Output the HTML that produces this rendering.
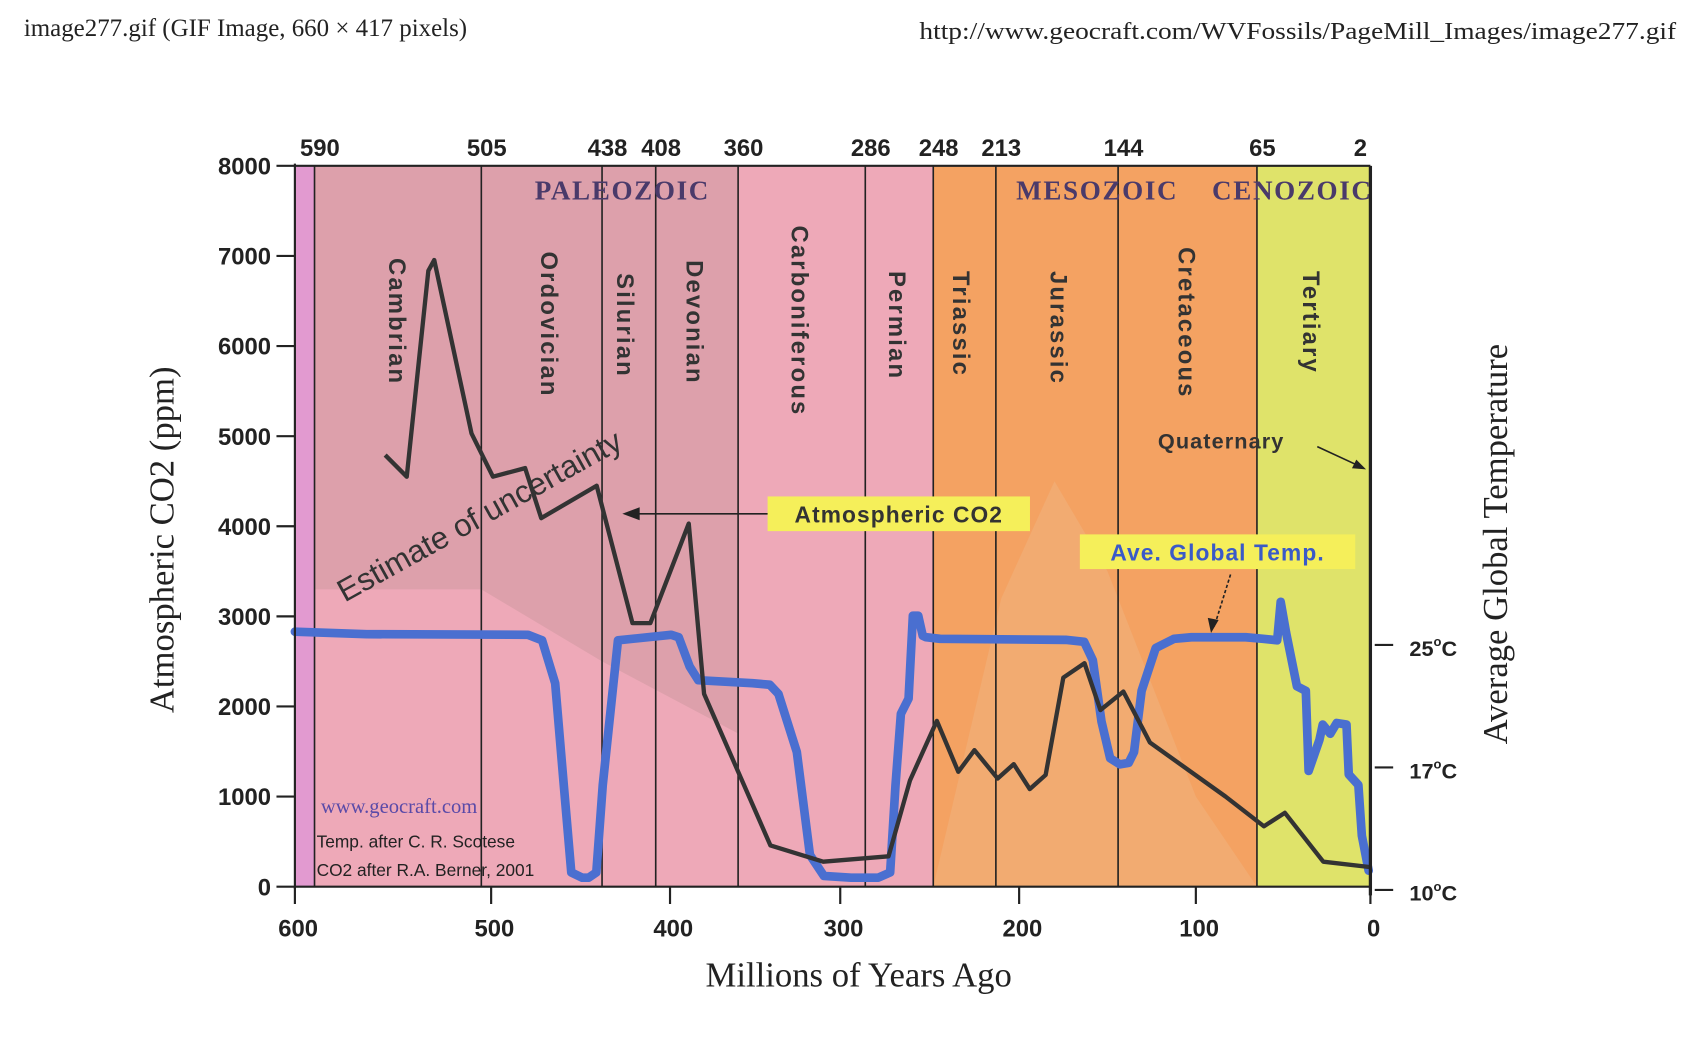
<!DOCTYPE html>
<html><head><meta charset="utf-8"><style>
html,body{margin:0;padding:0;background:#fff;}
svg{display:block;}
</style></head><body>
<svg id="chart" width="1700" height="1046" viewBox="0 0 1568 965" preserveAspectRatio="none" xmlns="http://www.w3.org/2000/svg" font-family="Liberation Sans, sans-serif">
<text x="22" y="33" font-family="Liberation Serif, serif" font-size="23" fill="#222">image277.gif (GIF Image, 660 × 417 pixels)</text>
<text x="1546" y="36" text-anchor="end" font-family="Liberation Serif, serif" font-size="22" fill="#222" textLength="698" lengthAdjust="spacingAndGlyphs">http://www.geocraft.com/WVFossils/PageMill_Images/image277.gif</text>
<g id="bg"></g>
<g id="lines"></g>
<g id="labels"></g>
<g id="series"></g>
<g id="axes"></g>
</svg>
<script>
const NS='http://www.w3.org/2000/svg';
// data
const boundaries=[590,505,438,408,360,286,248,213,144,65,2];
const periods=['Cambrian','Ordovician','Silurian','Devonian','Carboniferous','Permian','Triassic','Jurassic','Cretaceous','Tertiary'];
const co2Ages=[554,543,532,529,510,499,481,472,441,421,411,389,380,341,310,273,261,246,234,225,212,203,194,185,175,163,154,141,126,83,61,49,27,0];
const co2Vals=[4790,4550,6835,6955,5030,4550,4645,4090,4450,2925,2925,4030,2140,457,277,337,1180,1840,1275,1515,1200,1360,1083,1240,2320,2480,1960,2165,1600,1000,670,820,277,217];
const tempAges=[600,563.5,479.4,471.5,464.2,459.4,455.2,449.1,445.5,441.2,437.6,429.1,399.4,394.9,388.5,383.4,351.6,341.4,336.3,325.5,317.8,309.6,293.9,278.8,272.1,269.1,266.1,261.8,259.4,256.4,253.9,252.1,244.2,173.6,163.2,158.3,153.4,148.5,143,138,135,130.7,122.7,112.3,102.5,91.9,71.4,61.5,53.4,51.4,48.3,42.1,37,35.4,29.2,27.3,23,19.3,13.7,12.4,6.9,4.9,1];
const tempVals=[25.86,25.7,25.66,25.3,22.5,16,11,10.7,10.7,11,16,25.3,25.66,25.5,23.6,22.7,22.5,22.4,21.8,18,12,10.8,10.7,10.7,11,16,20.5,21.5,26.9,26.9,25.6,25.5,25.4,25.33,25.2,24,20,17.6,17.2,17.3,18,22,24.8,25.4,25.5,25.5,25.5,25.4,25.3,27.8,25.8,22.3,22.0,16.8,18.8,19.8,19.2,19.9,19.8,16.6,16.0,13.1,11.1];
const co2Ticks=[0,1000,2000,3000,4000,5000,6000,7000,8000];
const ageTicks=[600,500,400,300,200,100,0];
const tempTicks=[25,17,10];
// axes (piecewise-linear age axis through tick positions)
const tickPx=[272,453,618,775,940,1103,1264];
const X=a=>{const i=Math.min(5,Math.max(0,Math.floor((600-a)/100)));const a0=600-i*100;return tickPx[i]+(a0-a)/100*(tickPx[i+1]-tickPx[i]);};
const Y=v=>818-v*665/8000;
const tempPx=[[10,821],[17,708],[25,595],[30,524]];
const YT=t=>{let i=0;while(i<2&&t>tempPx[i+1][0])i++;const [t0,y0]=tempPx[i],[t1,y1]=tempPx[i+1];return y0+(t-t0)/(t1-t0)*(y1-y0);};
function el(tag,attrs,parent,txt){const e=document.createElementNS(NS,tag);for(const k in attrs)e.setAttribute(k,attrs[k]);if(txt!==undefined)e.textContent=txt;parent.appendChild(e);return e;}
const bg=document.getElementById('bg'),ln=document.getElementById('lines'),lb=document.getElementById('labels'),sr=document.getElementById('series'),ax=document.getElementById('axes');
const yTop=Y(8000),bot=Y(0);
let r;
r=el('rect',{x:X(600),y:yTop,width:X(590)-X(600),height:bot-yTop,fill:'#e29ad0'},bg);

r=el('rect',{x:X(590),y:yTop,width:X(248)-X(590),height:bot-yTop,fill:'#eea9b8'},bg);

r=el('polygon',{points:`${X(590)},${yTop} ${X(360)},${yTop} ${X(360)},${Y(1700)} ${X(438)},${Y(2500)} ${X(505)},${Y(3300)} ${X(590)},${Y(3300)}`,fill:'#d89ea8',opacity:0.8},bg);

r=el('rect',{x:X(248),y:yTop,width:X(65)-X(248),height:bot-yTop,fill:'#f4a262'},bg);

r=el('polygon',{points:`${X(248)},${bot} ${X(210)},${Y(3200)} ${X(180)},${Y(4500)} ${X(150)},${Y(3500)} ${X(100)},${Y(1000)} ${X(65)},${bot}`,fill:'#f0b07c',opacity:0.6},bg);

r=el('rect',{x:X(65),y:yTop,width:X(0)-X(65),height:bot-yTop,fill:'#dfe36a'},bg);

boundaries.forEach((b,i)=>{
 if(b>2){const l=el('line',{x1:X(b),x2:X(b),y1:yTop,y2:bot,stroke:'#222','stroke-width':1.5},ln);
 }
 const t=el('text',{x:X(b)+(b===2?-6:5),y:144,'text-anchor':'middle','font-size':22,'font-weight':'bold',fill:'#222'},ax,String(b));
 
});
const labelCx=[367,507,577,641,738,828,887,977,1095,1210];
const labelTop=[238,232,252,240,208,250,250,250,228,250];
periods.forEach((p,i)=>{
 const t=el('text',{x:0,y:0,transform:`translate(${labelCx[i]-8},${labelTop[i]}) rotate(90)`,'font-size':22,'font-weight':'bold',fill:'#333','letter-spacing':2},lb,p);
 
});
[['PALEOZOIC',574],['MESOZOIC',1012],['CENOZOIC',1192]].forEach(e=>{
 const t=el('text',{x:e[1],y:184,'text-anchor':'middle','font-family':'Liberation Serif, serif','font-size':25,'font-weight':'bold',fill:'#4a3a6a','letter-spacing':1.5},lb,e[0]);
 
});
let t=el('text',{x:0,y:0,transform:'translate(318,556) rotate(-29)','font-size':29,fill:'#333'},lb,'Estimate of uncertainty');

t=el('text',{x:296,y:750,'font-family':'Liberation Serif, serif','font-size':19,fill:'#5a4aa8'},lb,'www.geocraft.com');

t=el('text',{x:292,y:782,'font-size':16,fill:'#222'},lb,'Temp. after C. R. Scotese');

t=el('text',{x:292,y:808,'font-size':16,fill:'#222'},lb,'CO2 after R.A. Berner, 2001');

t=el('text',{x:1068,y:414,'font-size':20,'font-weight':'bold',fill:'#333','letter-spacing':1},lb,'Quaternary');

el('line',{x1:1215,y1:412,x2:1256,y2:431,stroke:'#222','stroke-width':1.5},lb);
el('polygon',{points:'1260,433 1247,432 1251,424',fill:'#222'},lb);
// series
const p1=el('polyline',{points:tempAges.map((a,i)=>X(a)+','+YT(tempVals[i])).join(' '),fill:'none',stroke:'#4a6fd0','stroke-width':8,'stroke-linejoin':'round','stroke-linecap':'round'},sr);

const p2=el('polyline',{points:co2Ages.map((a,i)=>X(a)+','+Y(co2Vals[i])).join(' '),fill:'none',stroke:'#333','stroke-width':4,'stroke-linejoin':'round'},sr);

// callouts
r=el('rect',{x:708,y:458,width:242,height:32,fill:'#f5ef5a'},sr);

t=el('text',{x:829,y:482,'text-anchor':'middle','font-size':21,'font-weight':'bold',fill:'#333','letter-spacing':1},sr,'Atmospheric CO2');

el('line',{x1:708,y1:474,x2:578,y2:474,stroke:'#222','stroke-width':1.5},sr);
el('polygon',{points:'574,474 590,468 590,480',fill:'#222'},sr);
r=el('rect',{x:996,y:493,width:254,height:32,fill:'#f5ef5a'},sr);

t=el('text',{x:1123,y:517,'text-anchor':'middle','font-size':21,'font-weight':'bold',fill:'#3a5ac8','letter-spacing':1},sr,'Ave. Global Temp.');

el('line',{x1:1135,y1:530,x2:1120,y2:578,stroke:'#222','stroke-width':1.5,'stroke-dasharray':'3,2'},sr);
el('polygon',{points:'1117,584 1114,570 1124,572',fill:'#222'},sr);
// axes
el('line',{x1:272,x2:272,y1:yTop-2,y2:bot+2,stroke:'#222','stroke-width':2},ax);
el('line',{x1:272,x2:1264,y1:bot,y2:bot,stroke:'#222','stroke-width':2},ax);
el('line',{x1:272,x2:1264,y1:yTop,y2:yTop,stroke:'#222','stroke-width':2},ax);
el('line',{x1:1264,x2:1264,y1:yTop,y2:bot+8,stroke:'#222','stroke-width':3},ax);
co2Ticks.forEach(v=>{
 el('line',{x1:255,x2:272,y1:Y(v),y2:Y(v),stroke:'#222','stroke-width':2},ax);
 const tt=el('text',{x:250,y:Y(v)+8,'text-anchor':'end','font-size':22,'font-weight':'bold',fill:'#222'},ax,String(v));
 
});
ageTicks.forEach(a=>{
 el('line',{x1:X(a),x2:X(a),y1:bot,y2:bot+16,stroke:'#222','stroke-width':2},ax);
 const tt=el('text',{x:X(a)+3,y:864,'text-anchor':'middle','font-size':22,'font-weight':'bold',fill:'#222'},ax,String(a));
 
});
tempTicks.forEach((v,i)=>{
 const yy=YT(v);
 el('line',{x1:1268,x2:1285,y1:yy,y2:yy,stroke:'#222','stroke-width':2},ax);
 const tt=el('text',{x:1300,y:yy+10,'font-size':20,'font-weight':'bold',fill:'#222'},ax);
 
 el('tspan',{},tt,String(v));
 el('tspan',{dy:-9,'font-size':12},tt,'o');
 el('tspan',{dy:9},tt,'C');
});
t=el('text',{x:0,y:0,transform:'translate(160,498) rotate(-90)','text-anchor':'middle','font-family':'Liberation Serif, serif','font-size':32,fill:'#222'},ax,'Atmospheric CO2 (ppm)');

t=el('text',{x:0,y:0,transform:'translate(1390,502) rotate(-90)','text-anchor':'middle','font-family':'Liberation Serif, serif','font-size':32,fill:'#222'},ax,'Average Global Temperature');

t=el('text',{x:792,y:910,'text-anchor':'middle','font-family':'Liberation Serif, serif','font-size':32,fill:'#222'},ax,'Millions of Years Ago');

</script>
</body></html>
